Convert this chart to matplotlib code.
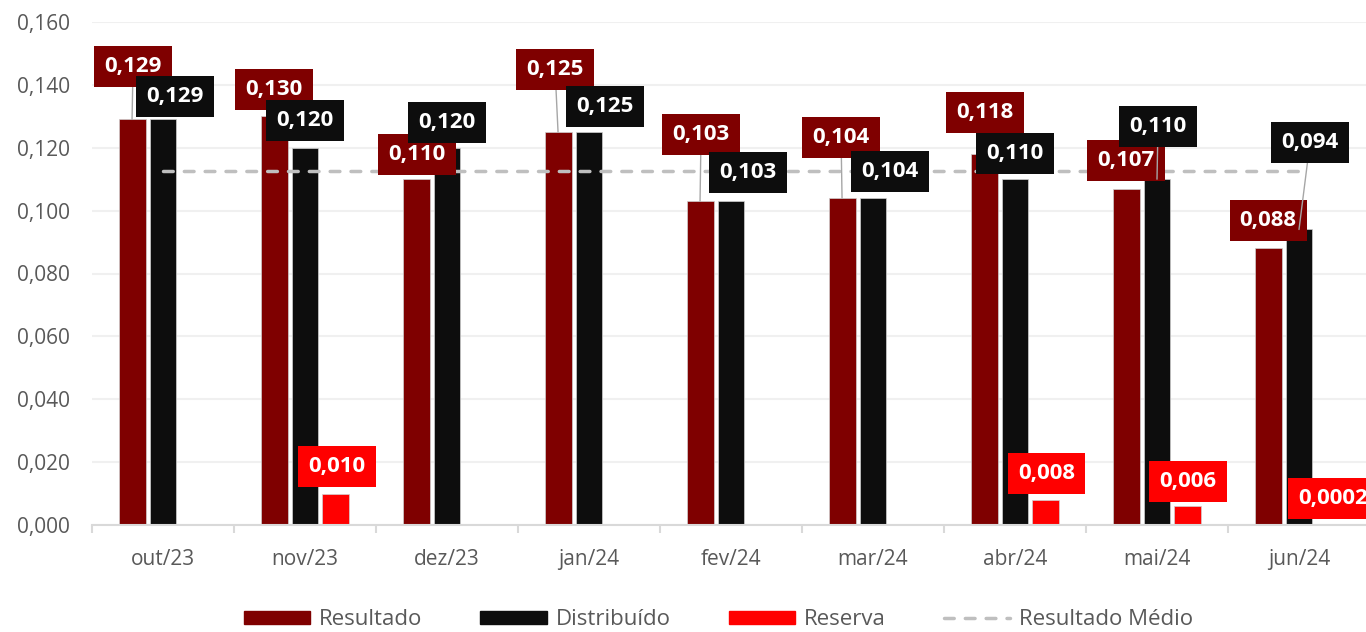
import numpy as np
import matplotlib
matplotlib.use("Agg")
import matplotlib.pyplot as plt
from matplotlib.lines import Line2D
from matplotlib.patches import Patch

# dados
meses = ["out/23", "nov/23", "dez/23", "jan/24", "fev/24", "mar/24", "abr/24", "mai/24", "jun/24"]
resultado = [0.129, 0.130, 0.110, 0.125, 0.103, 0.104, 0.118, 0.107, 0.088]
distribuido = [0.129, 0.120, 0.120, 0.125, 0.103, 0.104, 0.110, 0.110, 0.094]
reserva = [0.0, 0.010, 0.0, 0.0, 0.0, 0.0, 0.008, 0.006, 0.0002]
yticks = [0.000, 0.020, 0.040, 0.060, 0.080, 0.100, 0.120, 0.140, 0.160]

# posicao dos rotulos (deslocamento em pixels a partir do topo da barra)
off_res = [(1, 53), (0, 27), (1, 25), (-3, 63), (1, 67), (-1, 61), (1, 42), (0, 28), (0, 28)]
off_dis = [(12, 23), (0, 27), (0, 25), (16, 26), (17, 29), (17, 27), (0, 26), (1, 53), (11, 87)]
off_rsv = [(1, 27), (1, 27), (1, 27), (1, 27), (1, 27), (1, 27), (1, 26), (0, 25), (3, 26)]

c_res = "#7f0000"
c_dis = "#0d0d0d"
c_rsv = "#ff0000"
fonte = ["Open Sans", "DejaVu Sans"]

plt.rcParams["font.family"] = fonte

fig = plt.figure(figsize=(13.66, 6.32), dpi=100)
ax = fig.add_axes([92 / 1366, 107 / 632, 1278 / 1366, 503 / 632])

x = np.arange(len(meses))
w = 0.19
d = 0.218

ax.bar(x - d, resultado, w, color=c_res, edgecolor="#d0d0d0", linewidth=0.5, zorder=2)
ax.bar(x, distribuido, w, color=c_dis, edgecolor="#d0d0d0", linewidth=0.5, zorder=2)
ax.bar(x + d, reserva, w, color=c_rsv, edgecolor="#d0d0d0", linewidth=0.5, zorder=2)

media = np.mean(resultado)
ax.plot([x[0], x[-1]], [media, media], color="#bfbfbf", lw=2.5,
        linestyle=(0, (2.8, 3.2)), dash_capstyle="round", zorder=3)


def rotulo(xi, v, off, cor, z):
    txt = f"{v:.4f}" if v < 0.001 else f"{v:.3f}"
    txt = txt.replace(".", ",")
    if off[1] > 30:
        ax.annotate("", (xi, v), xytext=off, textcoords="offset pixels",
                    arrowprops=dict(arrowstyle="-", color="#a6a6a6", lw=1,
                                    shrinkA=0, shrinkB=0), zorder=z)
    ax.annotate(txt, (xi, v), xytext=off, textcoords="offset pixels",
                ha="center", va="center", color="white", fontsize=16,
                fontweight="bold", zorder=z + 0.5,
                bbox=dict(boxstyle="square,pad=0.45", fc=cor, ec="none"))


for i in range(len(meses)):
    rotulo(x[i] - d, resultado[i], off_res[i], c_res, 5)
    rotulo(x[i], distribuido[i], off_dis[i], c_dis, 6)
    if reserva[i] > 0:
        rotulo(x[i] + d, reserva[i], off_rsv[i], c_rsv, 7)

ax.set_xlim(-0.5, len(meses) - 0.5)
ax.set_ylim(0, 0.16)
ax.set_yticks(yticks)
ax.set_yticklabels([f"{v:.3f}".replace(".", ",") for v in yticks])
ax.set_xticks(x)
ax.set_xticklabels(meses)
ax.set_xticks(np.arange(-0.5, len(meses), 1), minor=True)
ax.tick_params(axis="x", which="major", length=0, pad=17, labelsize=15, colors="#595959")
ax.tick_params(axis="x", which="minor", length=6, width=1.5, color="#d9d9d9")
ax.tick_params(axis="y", length=0, pad=16, labelsize=15, colors="#595959")
ax.grid(axis="y", color="#f0f0f0", lw=1.5, zorder=0)
ax.set_axisbelow(True)
for s in ["top", "right", "left"]:
    ax.spines[s].set_visible(False)
ax.spines["bottom"].set_color("#d9d9d9")
ax.spines["bottom"].set_linewidth(1.5)
ax.spines["bottom"].set_zorder(5)

handles = [
    Patch(color=c_res, label="Resultado"),
    Patch(color=c_dis, label="Distribuído"),
    Patch(color=c_rsv, label="Reserva"),
    Line2D([], [], color="#bfbfbf", lw=2.5, linestyle=(0, (2.8, 3.2)),
           dash_capstyle="round", label="Resultado Médio"),
]
fig.legend(handles=handles, loc="center", bbox_to_anchor=(0.526, 0.019), ncol=4,
           frameon=False, fontsize=16, handlelength=3.0, handleheight=0.55,
           columnspacing=2.6, handletextpad=0.4,
           labelcolor="#595959")

fig.savefig("out.png", dpi=100)
